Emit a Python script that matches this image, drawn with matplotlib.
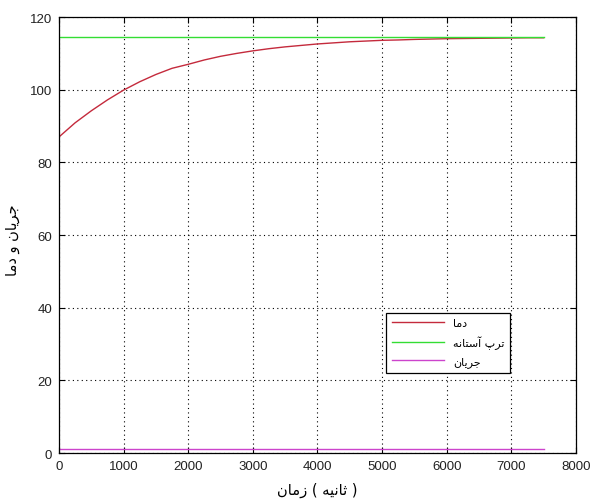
import matplotlib
matplotlib.use("Agg")
import matplotlib.pyplot as plt
import numpy as np

# ---- data ----
time_s = [0, 250, 500, 750, 1000, 1250, 1500, 1750, 2000, 2250, 2500, 2750, 3000,
          3250, 3500, 3750, 4000, 4250, 4500, 4750, 5000, 5250, 5500, 5750, 6000,
          6250, 6500, 6750, 7000, 7250, 7500]
temperature = [87.0, 90.9, 94.2, 97.2, 99.9, 102.2, 104.2, 105.9, 107.0, 108.2, 109.2,
               110.0, 110.7, 111.3, 111.8, 112.2, 112.6, 112.9, 113.2, 113.4, 113.6,
               113.7, 113.85, 113.95, 114.05, 114.1, 114.15, 114.2, 114.25, 114.3, 114.3]
trip_threshold = [114.5] * len(time_s)
current = [1.2] * len(time_s)

legend_labels = ["دما", "آستانه ترپ", "جریان"]
x_label = "زمان ( ثانیه )"
y_label = "دما و جریان"
x_ticks = [0, 1000, 2000, 3000, 4000, 5000, 6000, 7000, 8000]
y_ticks = [0, 20, 40, 60, 80, 100, 120]

# ---- simple Arabic/Persian shaping (per-word visual order, as in reference) ----
FORMS = {  # isolated, final, initial, medial
    'ا': ('\uFE8D', '\uFE8E', None, None),
    'آ': ('\uFE81', '\uFE82', None, None),
    'د': ('\uFEA9', '\uFEAA', None, None),
    'ر': ('\uFEAD', '\uFEAE', None, None),
    'ز': ('\uFEAF', '\uFEB0', None, None),
    'و': ('\uFEED', '\uFEEE', None, None),
    'م': ('\uFEE1', '\uFEE2', '\uFEE3', '\uFEE4'),
    'ن': ('\uFEE5', '\uFEE6', '\uFEE7', '\uFEE8'),
    'ث': ('\uFE99', '\uFE9A', '\uFE9B', '\uFE9C'),
    'ت': ('\uFE95', '\uFE96', '\uFE97', '\uFE98'),
    'س': ('\uFEB1', '\uFEB2', '\uFEB3', '\uFEB4'),
    'ج': ('\uFE9D', '\uFE9E', '\uFE9F', '\uFEA0'),
    'ه': ('\uFEE9', '\uFEEA', '\uFEEB', '\uFEEC'),
    'ی': ('\uFBFC', '\uFBFD', '\uFEF3', '\uFEF4'),
    'پ': ('\uFB56', '\uFB57', '\uFB58', '\uFB59'),
}


def shape_word(w):
    out = []
    for i, c in enumerate(w):
        if c not in FORMS:
            out.append(c)
            continue
        prev = w[i - 1] if i > 0 else None
        nxt = w[i + 1] if i + 1 < len(w) else None
        jp = prev in FORMS and FORMS[prev][2] is not None
        jn = FORMS[c][2] is not None and nxt in FORMS
        iso, fin, ini, med = FORMS[c]
        if jp and jn:
            out.append(med)
        elif jp:
            out.append(fin)
        elif jn:
            out.append(ini)
        else:
            out.append(iso)
    return ''.join(reversed(out))


def shape(s):
    return ' '.join(shape_word(w) for w in s.split(' '))


AR_FONT = ['DejaVu Sans']
plt.rcParams['font.family'] = ['Liberation Sans', 'DejaVu Sans']

fig = plt.figure(figsize=(5.91, 5.02), dpi=100)
ax = fig.add_axes([0.0998, 0.0956, 0.8748, 0.8684])

ax.plot(time_s, temperature, color='#c42a3c', lw=1.0, label=shape(legend_labels[0]))
ax.plot(time_s, trip_threshold, color='#33dd33', lw=1.0, label=shape(legend_labels[1]))
ax.plot(time_s, current, color='#cc44cc', lw=1.0, label=shape(legend_labels[2]))

ax.set_xlim(0, 8000)
ax.set_ylim(0, 120)
ax.set_xticks(x_ticks)
ax.set_yticks(y_ticks)
ax.tick_params(direction='in', length=4, labelsize=9.5, top=True, right=True,
               colors='black', labelcolor='#222222', pad=5)
ax.grid(True, linestyle=(0, (1, 3)), color='black', lw=0.8)
for sp in ax.spines.values():
    sp.set_linewidth(0.9)

ax.set_xlabel(shape(x_label), family=AR_FONT, fontsize=10.5, labelpad=7)
ax.set_ylabel(shape(y_label), family=AR_FONT, fontsize=10.5)
ax.yaxis.set_label_coords(-0.075, 0.49)

leg = ax.legend(loc='upper left', bbox_to_anchor=(0.622, 0.335), fancybox=False,
                edgecolor='black', framealpha=1, handlelength=4.7,
                prop={'family': AR_FONT, 'size': 8}, borderpad=0.5,
                labelspacing=0.65)
leg.get_frame().set_linewidth(0.9)

fig.savefig('out.png', dpi=100)
